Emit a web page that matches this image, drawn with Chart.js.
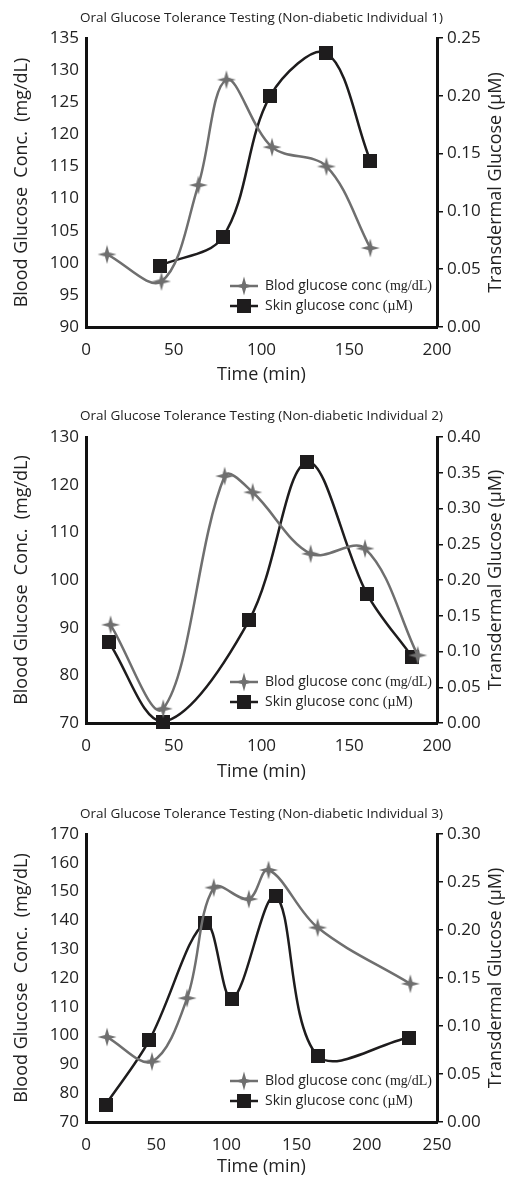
<!DOCTYPE html>
<html>
<head>
<meta charset="utf-8">
<script src="https://cdn.jsdelivr.net/npm/chart.js@4.4.0/dist/chart.umd.min.js"></script>
<style>
  html, body { margin: 0; padding: 0; background: #fff; overflow: hidden; }
  .panel { position: absolute; left: 0; width: 506px; height: 398px; }
</style>
</head>
<body>
<div class="panel" style="top:0px"><canvas id="grafico1" width="506" height="398"></canvas></div>
<div class="panel" style="top:398px"><canvas id="grafico2" width="506" height="398"></canvas></div>
<div class="panel" style="top:796px"><canvas id="grafico3" width="506" height="398"></canvas></div>
<script>
// Individual 1
const bloodTime1 = [12, 43, 64, 80, 106, 137, 162];
const blood1 = [101.3, 97.1, 112.1, 128.5, 118, 115, 102.3];
const skinTime1 = [42, 78, 105, 137, 162];
const skin1 = [0.053, 0.078, 0.200, 0.237, 0.144];
const xTicks1 = [0, 50, 100, 150, 200];
const leftTicks1 = [90, 95, 100, 105, 110, 115, 120, 125, 130, 135];
const rightTicks1 = [0, 0.05, 0.10, 0.15, 0.20, 0.25];

// Individual 2
const bloodTime2 = [14, 44, 79, 95, 128, 159, 189];
const blood2 = [90.6, 73, 121.8, 118.4, 105.5, 106.6, 84.2];
const skinTime2 = [13, 44, 93, 126, 160, 186];
const skin2 = [0.113, 0.002, 0.144, 0.365, 0.181, 0.092];
const xTicks2 = [0, 50, 100, 150, 200];
const leftTicks2 = [70, 80, 90, 100, 110, 120, 130];
const rightTicks2 = [0, 0.05, 0.10, 0.15, 0.20, 0.25, 0.30, 0.35, 0.40];

// Individual 3
const bloodTime3 = [15, 47, 72, 91, 116, 130, 165, 231];
const blood3 = [99.5, 91, 113, 151.4, 147.4, 157.5, 137.5, 118];
const skinTime3 = [14, 45, 85, 104, 135, 165, 230];
const skin3 = [0.018, 0.085, 0.207, 0.128, 0.235, 0.069, 0.088];
const xTicks3 = [0, 50, 100, 150, 200, 250];
const leftTicks3 = [70, 80, 90, 100, 110, 120, 130, 140, 150, 160, 170];
const rightTicks3 = [0, 0.05, 0.10, 0.15, 0.20, 0.25, 0.30];

const gris = '#6f6f6f';
const negro = '#1e1c1d';
const sans = "'Open Sans', sans-serif";
const serif = "'Liberation Serif', serif";

function estrella(color){
    const c = document.createElement('canvas');
    c.width = 20; c.height = 20;
    const g = c.getContext('2d');
    g.fillStyle = color;
    g.beginPath();
    for (let i = 0; i < 8; i++){
        const r = i % 2 === 0 ? 9.5 : 3;
        const a = -Math.PI / 2 + i * Math.PI / 4;
        const px = 10 + r * Math.cos(a), py = 10 + r * Math.sin(a);
        if (i === 0) g.moveTo(px, py); else g.lineTo(px, py);
    }
    g.closePath();
    g.fill();
    return c;
}

function cuadro(color){
    const c = document.createElement('canvas');
    c.width = 14; c.height = 14;
    const g = c.getContext('2d');
    g.fillStyle = color;
    g.fillRect(0, 0, 14, 14);
    return c;
}

const marcaEstrella = estrella(gris);
const marcaCuadro = cuadro(negro);

function pares(xs, ys){
    return xs.map((x, i) => ({x: x, y: ys[i]}));
}

// title, right axis title and the legend inside the plot
const extrasPlugin = {
    id: 'extras',
    afterDraw(chart, args, opts){
        const ctx = chart.ctx;
        const area = chart.chartArea;
        ctx.save();
        ctx.fillStyle = '#222';
        ctx.textBaseline = 'middle';

        ctx.font = "13.5px " + sans;
        ctx.textAlign = 'center';
        ctx.fillText(opts.titulo, (area.left + area.right) / 2, 18);

        ctx.save();
        ctx.translate(496, (area.top + area.bottom) / 2);
        ctx.rotate(-Math.PI / 2);
        ctx.font = "18px " + sans;
        ctx.fillText('Transdermal Glucose (µM)', 0, 0);
        ctx.restore();

        const filas = [area.bottom - 41, area.bottom - 21];
        chart.data.datasets.forEach((ds, i) => {
            const y = filas[i];
            ctx.strokeStyle = ds.borderColor;
            ctx.lineWidth = 2.5;
            ctx.beginPath();
            ctx.moveTo(area.right - 207, y);
            ctx.lineTo(area.right - 179, y);
            ctx.stroke();
            const img = ds.pointStyle;
            ctx.drawImage(img, area.right - 193 - img.width / 2, y - img.height / 2);
            const corte = ds.label.indexOf('(');
            const parte1 = ds.label.slice(0, corte);
            const parte2 = ds.label.slice(corte);
            ctx.textAlign = 'left';
            ctx.font = "14px " + sans;
            ctx.fillText(parte1, area.right - 172, y);
            const w = ctx.measureText(parte1).width;
            ctx.font = "14px " + serif;
            ctx.fillText(parte2, area.right - 172 + w, y);
        });
        ctx.restore();
    }
};

function crearGrafico(id, cfg){
    const alto = 398;
    const fuenteTicks = {family: sans, size: 17};
    new Chart(document.getElementById(id), {
        type: 'line',
        data: {
            datasets: [
                {
                    label: 'Blod glucose conc (mg/dL)',
                    data: pares(cfg.bloodTime, cfg.blood),
                    yAxisID: 'y',
                    borderColor: gris,
                    borderWidth: 2.5,
                    pointStyle: marcaEstrella,
                    tension: 0.35,
                    clip: false
                },
                {
                    label: 'Skin glucose conc (µM)',
                    data: pares(cfg.skinTime, cfg.skin),
                    yAxisID: 'y1',
                    borderColor: negro,
                    borderWidth: 2.5,
                    pointStyle: marcaCuadro,
                    tension: 0.35,
                    clip: false
                }
            ]
        },
        options: {
            responsive: false,
            animation: false,
            layout: {padding: {top: cfg.plotTop, left: 0, right: 0, bottom: 0}},
            plugins: {
                legend: {display: false},
                tooltip: {enabled: false},
                extras: {titulo: cfg.titulo}
            },
            scales: {
                x: {
                    type: 'linear',
                    min: cfg.xTicks[0],
                    max: cfg.xTicks[cfg.xTicks.length - 1],
                    ticks: {stepSize: cfg.xTicks[1] - cfg.xTicks[0], color: '#222', font: fuenteTicks, padding: 13},
                    grid: {display: false, drawTicks: false},
                    border: {color: '#111', width: 3},
                    title: {display: true, text: 'Time (min)', color: '#222', font: {family: sans, size: 18}, padding: {top: 0, bottom: cfg.xTitlePad}},
                    afterFit: s => { s.height = alto - cfg.plotBottom; }
                },
                y: {
                    position: 'left',
                    min: cfg.leftTicks[0],
                    max: cfg.leftTicks[cfg.leftTicks.length - 1],
                    ticks: {stepSize: cfg.leftTicks[1] - cfg.leftTicks[0], color: '#222', font: fuenteTicks, padding: 7},
                    grid: {display: false, drawTicks: false},
                    border: {color: '#111', width: 3},
                    title: {display: true, text: 'Blood Glucose  Conc.  (mg/dL)', color: '#222', font: {family: sans, size: 18}, padding: {top: 11, bottom: 0}},
                    afterFit: s => { s.width = 86; }
                },
                y1: {
                    position: 'right',
                    min: cfg.rightTicks[0],
                    max: cfg.rightTicks[cfg.rightTicks.length - 1],
                    ticks: {stepSize: cfg.rightTicks[1] - cfg.rightTicks[0], color: '#222', font: fuenteTicks, padding: 4,
                        callback: v => v.toFixed(2)},
                    grid: {display: true, drawOnChartArea: false, drawTicks: true, tickLength: 6, color: '#111', lineWidth: 1.5},
                    border: {color: '#111', width: 3},
                    afterFit: s => { s.width = 69; }
                }
            }
        },
        plugins: [extrasPlugin]
    });
}

crearGrafico('grafico1', {
    titulo: 'Oral Glucose Tolerance Testing (Non-diabetic Individual 1)',
    bloodTime: bloodTime1, blood: blood1, skinTime: skinTime1, skin: skin1,
    xTicks: xTicks1, leftTicks: leftTicks1, rightTicks: rightTicks1,
    plotTop: 38, plotBottom: 327, xTitlePad: 12
});
crearGrafico('grafico2', {
    titulo: 'Oral Glucose Tolerance Testing (Non-diabetic Individual 2)',
    bloodTime: bloodTime2, blood: blood2, skinTime: skinTime2, skin: skin2,
    xTicks: xTicks2, leftTicks: leftTicks2, rightTicks: rightTicks2,
    plotTop: 39, plotBottom: 325, xTitlePad: 13
});
crearGrafico('grafico3', {
    titulo: 'Oral Glucose Tolerance Testing (Non-diabetic Individual 3)',
    bloodTime: bloodTime3, blood: blood3, skinTime: skinTime3, skin: skin3,
    xTicks: xTicks3, leftTicks: leftTicks3, rightTicks: rightTicks3,
    plotTop: 38, plotBottom: 326, xTitlePad: 16
});
</script>
</body>
</html>
